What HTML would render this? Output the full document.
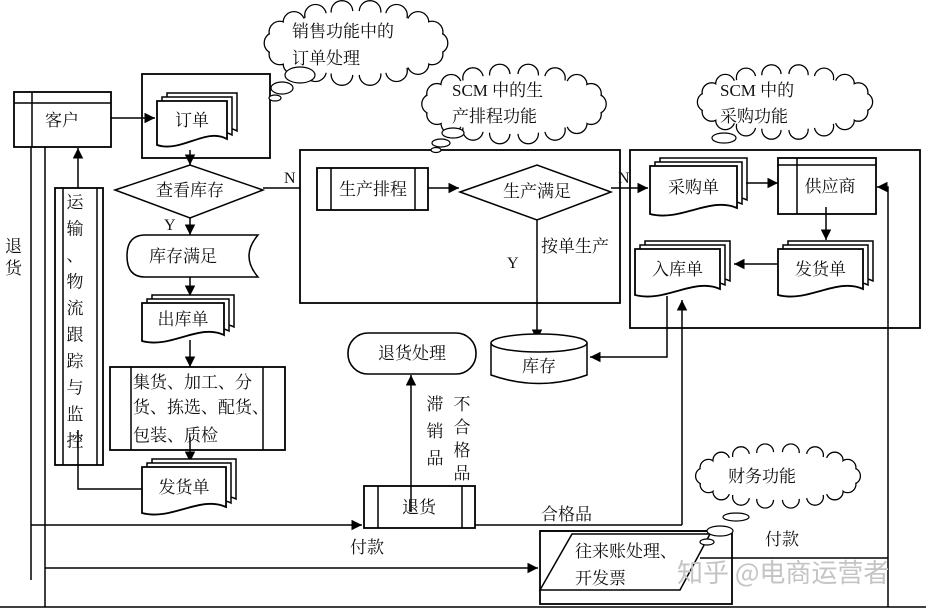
<!DOCTYPE html>
<html><head><meta charset="utf-8">
<style>
html,body{margin:0;padding:0;background:#fff;}
svg{display:block;}
text{font-family:"Liberation Serif","Noto Serif CJK SC","Noto Sans CJK SC",serif;fill:#111;}
</style></head>
<body>
<svg id="s" width="926" height="610" viewBox="0 0 926 610" xmlns="http://www.w3.org/2000/svg">
<defs>
<marker id="a" viewBox="0 0 10 10" refX="10" refY="5" markerWidth="7" markerHeight="7" orient="auto"><path d="M0,0 L10,5 L0,10 z" fill="#000"/></marker>
</defs>
<g id="g" stroke="#000" stroke-width="1.5" fill="none"></g>
</svg>
<script>
var g=document.getElementById('g'),NS='http://www.w3.org/2000/svg';
function el(t,a,txt){var e=document.createElementNS(NS,t);for(var k in a)e.setAttribute(k,a[k]);if(txt!==undefined)e.textContent=txt;g.appendChild(e);return e;}
function L(p,arrow){el('polyline',Object.assign({points:p},arrow?{'marker-end':'url(#a)'}:{}));}
function R(x,y,w,h,sw){el('rect',{x:x,y:y,width:w,height:h,fill:'#fff','stroke-width':sw||1.8});}
function T(x,y,s,sz,anchor){el('text',{x:x,y:y,stroke:'none',style:'font-size:'+(sz||17)+'px','text-anchor':anchor||'start'},s);}
function docShape(x,y,w,h){return 'M'+x+','+y+' L'+(x+w)+','+y+' L'+(x+w)+','+(y+h-6)+' C'+(x+w*0.7)+','+(y+h-18)+' '+(x+w*0.35)+','+(y+h+8)+' '+x+','+(y+h)+' Z';}
function doc(x,y,w,h,label){
 el('path',{d:docShape(x+10,y-8,w,h),fill:'#fff'});
 el('path',{d:docShape(x+5,y-4,w,h),fill:'#fff'});
 el('path',{d:docShape(x,y,w,h),fill:'#fff','stroke-width':1.8});
 T(x+w/2,y+h/2+3,label,17,'middle');
}
function cloud(cx,cy,rx,ry,bubbles){
 var cs=[],n=18;
 for(var i=0;i<n;i++){var t=i/n*2*Math.PI;cs.push([cx+(rx-4)*Math.cos(t),cy+(ry-4)*Math.sin(t),Math.min(rx,ry)*0.3]);}
 cs.forEach(function(c){el('circle',{cx:c[0],cy:c[1],r:c[2],fill:'#fff','stroke-width':1.3});});
 cs.forEach(function(c){el('circle',{cx:c[0],cy:c[1],r:c[2]-0.8,fill:'#fff',stroke:'none'});});
 el('ellipse',{cx:cx,cy:cy,rx:rx-4,ry:ry-4,fill:'#fff',stroke:'none'});
 (bubbles||[]).forEach(function(b){el('ellipse',{cx:b[0],cy:b[1],rx:b[2],ry:b[3],fill:'#fff','stroke-width':1.2});});
}
L('0,607 926,607');
L('31,147 31,580');L('45,147 45,607');
R(14,92,97,55);L('14,103 111,103');L('32,92 32,147');T(45,126,'客户');
R(55,188,48,277);L('63,188 63,465');L('97,188 97,465');
var tv=['运','输','、','物','流','跟','踪','与','监','控'];
tv.forEach(function(c,i){T(75,208+i*26.5,c,17,'middle');});
L('78,188 78,148',1);
L('78,430 78,489 142,489');
T(5,252,'退');T(5,274,'货');
R(142,74,128,84);
L('111,118 155,118',1);
doc(157,101,70,44,'订单');
L('190,150 190,165',1);
el('polygon',{points:'115,190 190,165 263,190 190,218',fill:'#fff'});
T(190,196,'查看库存',17,'middle');
L('263,188 315,188',1);T(284,183,'N',16);
L('190,218 190,235',1);T(164,230,'Y',16);
el('path',{d:'M145,235 L258,235 Q240,256 258,277 L145,277 Q127,277 127,256 Q127,235 145,235 Z',fill:'#fff'});
T(183,262,'库存满足',17,'middle');
L('190,277 190,296',1);
doc(142,303,82,38,'出库单');
L('190,340 190,367',1);
R(110,367,175,83);L('131,367 131,450');L('263,367 263,450');
T(133,388,'集货、加工、分',17);T(133,413,'货、拣选、配货、',17);T(133,441,'包装、质检',17);
L('190,437 190,462',1);
doc(142,467,84,46,'发货单');
L('31,525 362,525',1);T(350,553,'付款');
L('45,568 538,568',1);
R(364,486,111,42);L('378,486 378,528');L('462,486 462,528');T(419,513,'退货',17,'middle');
L('411,512 411,375',1);
el('rect',{x:348,y:333,width:128,height:41,rx:20,fill:'#fff','stroke-width':1.6});
T(412,359,'退货处理',17,'middle');
['滞','销','品'].forEach(function(c,i){T(435,410+i*27,c,17,'middle');});
['不','合','格','品'].forEach(function(c,i){T(462,410+i*23,c,17,'middle');});
L('475,525 682,525');T(541,520,'合格品');
R(300,150,320,153);
R(317,168,111,42);L('331,168 331,210');L('415,168 415,210');T(373,195,'生产排程',17,'middle');
L('428,188 459,188',1);
el('polygon',{points:'460,192 537,165 611,192 537,220',fill:'#fff'});
T(537,197,'生产满足',17,'middle');
T(541,252,'按单生产');T(507,268,'Y',16);
L('537,220 537,340',1);
el('path',{d:'M491,343 L491,375 Q539,392 587,375 L587,343',fill:'#fff'});
el('ellipse',{cx:539,cy:343,rx:48,ry:9,fill:'#fff'});
T(539,372,'库存',17,'middle');
R(630,150,290,178);
L('611,188 648,188',1);T(618,183,'N',16);
doc(650,166,87,48,'采购单');
L('746,183 778,183',1);
R(778,158,98,56);L('797,158 797,214');L('778,165 876,165');T(830,192,'供应商',17,'middle');
L('826,207 826,240',1);
doc(778,249,85,46,'发货单');
L('778,264 734,264',1);
doc(635,249,85,46,'入库单');
L('667,296 667,357 590,357',1);
L('682,525 682,300',1);
L('888,607 888,187 877,187',1);
R(540,531,192,73);
L('540,531 732,531');
el('polygon',{points:'540,590 572,534 710,534 680,590',fill:'#fff'});
T(575,557,'往来账处理、');T(575,584,'开发票');
L('700,558 888,558');
T(765,545,'付款');
cloud(778,476,78,28,[[736,517,13,4],[720,531,13,5],[707,542,7,3]]);
T(728,482,'财务功能');
cloud(356,43,85,36,[[300,75,15,8],[282,88,11,6],[275,98,6,3]]);
T(292,37,'销售功能中的');T(292,64,'订单处理');
cloud(514,104,86,34,[[453,133,11,5],[441,143,9,4],[436,150,5,2.5]]);
T(452,96,'SCM 中的生');T(452,122,'产排程功能');
cloud(785,102,82,32,[[724,138,12,5]]);
T(720,96,'SCM 中的');T(720,122,'采购功能');
el('text',{x:677,y:582,stroke:'none',style:'fill:#c4c4c4;font-size:26px;font-family:"Noto Sans CJK SC",sans-serif'},'知乎 @电商运营者');
</script>
</body></html>
